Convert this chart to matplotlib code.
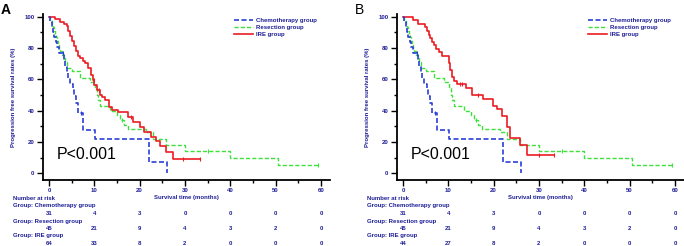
import matplotlib
matplotlib.use("Agg")
import matplotlib.pyplot as plt
from matplotlib.lines import Line2D
from matplotlib.transforms import blended_transform_factory
import numpy as np

plt.rcParams["font.family"] = ["Liberation Sans", "DejaVu Sans"]

# ----------------------------------------------------------
# Data
# ----------------------------------------------------------
chemo_t = [0, 0.3, 0.6, 0.9, 1.2, 1.5, 1.8, 2.1, 3.2, 3.5, 3.9, 4.3, 4.7, 5.2, 5.6, 6.0, 6.4, 7.5, 10.2, 22.0, 26.0]
chemo_s = [100, 96.8, 93.5, 90.3, 87.1, 83.9, 80.6, 76.5, 72, 68, 64.5, 61, 57, 53, 49, 45, 38.5, 27.5, 22, 7.4, 0]
chemo_end = 26.0
chemo_cens = [3.0, 7.0]

res_t = [0, 0.3, 0.6, 0.9, 1.1, 1.3, 1.5, 1.7, 1.9, 2.2, 2.5, 2.9, 3.3, 3.6, 3.9, 5.0, 6.8, 9.0,
         10.1, 10.5, 10.8, 11.2, 13.4, 14.9, 15.6, 16.5, 17.5, 21.3, 23.0, 25.9, 30.0, 40.0, 50.5]
res_s = [100, 97.8, 95.6, 93.3, 91.1, 88.9, 86.7, 84.4, 82.2, 80, 77.8, 75.6, 73.3, 71.1, 67.5, 65, 61, 58,
         55, 50, 46.5, 43, 40, 37, 34, 31, 28, 26, 21.6, 18, 14.4, 10, 5.2]
res_end = 59.3
res_cens = [16.0, 35.0, 59.3]

ire_a_t = [0, 1.3, 2.4, 3.2, 3.9, 4.3, 4.7, 5.1, 5.5, 5.9, 6.3, 6.8, 7.4, 8.0, 8.7, 9.2, 9.6, 10.0, 10.6,
           11.2, 11.6, 12.4, 13.2, 14.0, 15.2, 17.4, 18.6, 20.0, 20.9, 22.6, 23.5, 24.4, 25.9, 27.4]
ire_a_s = [100, 98.4, 96.9, 95.3, 93.8, 90.6, 87.5, 84.4, 81.3, 78.1, 75, 73.4, 71.9, 70.3, 67.2, 62.5, 59.4,
           56.3, 53.1, 50, 48.4, 46.9, 42.2, 40.6, 39.1, 35.9, 32.8, 29.7, 26.6, 23.4, 20.3, 17.2, 13.3, 9.0]
ire_a_end = 33.3
ire_a_cens = [9.9, 11.0, 18.0, 29.5, 33.3]

ire_b_t = [0, 2.3, 3.4, 4.9, 5.3, 5.7, 6.0, 6.3, 6.8, 7.3, 7.9, 8.6, 10.1, 10.4, 10.8, 11.2, 11.9, 13.8,
           15.2, 17.7, 19.9, 20.7, 21.8, 22.9, 23.6, 25.8, 27.3]
ire_b_s = [100, 97.7, 95.5, 93.2, 90.9, 88.6, 86.4, 84.1, 81.8, 79.5, 77.3, 75.0, 70.5, 65.9, 61.4, 59.1,
           56.8, 54.5, 50, 47.7, 43.2, 40.9, 36.4, 29.5, 22.7, 18.2, 11.4]
ire_b_end = 33.3
ire_b_cens = [12.5, 13.0, 16.5, 30.0, 33.3]

risk_times = [0, 10, 20, 30, 40, 50, 60]
risk_chemo = [31, 4, 3, 0, 0, 0, 0]
risk_res = [45, 21, 9, 4, 3, 2, 0]
risk_ire_a = [64, 33, 8, 2, 0, 0, 0]
risk_ire_b = [44, 27, 8, 2, 0, 0, 0]

group_names = ["Chemotherapy group", "Resection group", "IRE group"]

# ----------------------------------------------------------
# Styles
# ----------------------------------------------------------
NAVY = "#1e1e96"
BLUE = "#2a3fd6"
GREEN = "#3de03d"
RED = "#ec1c24"
W, H = 684, 246


def step_curve(ax, t, s, end, cens, color, ls, lw):
    tt = list(t) + [end]
    ss = list(s) + [s[-1]]
    ax.step(tt, ss, where="post", color=color, ls=ls, lw=lw, clip_on=False)
    idx = np.searchsorted(t, cens, side="right") - 1
    cy = np.array(s)[idx]
    ax.plot(cens, cy, ls="none", marker="|", ms=3.5, mew=0.8, color=color, clip_on=False)


def panel(x0_px, label, bold, ire, risk_ire):
    px_per_mo = 272 / 60.0
    left_px = x0_px - 1.4 * px_per_mo
    ax = fig.add_axes([left_px / W, 1 - 180 / H, 63.3 * px_per_mo / W, 166 / H])
    ax.set_xlim(-1.4, 61.9)
    ax.set_ylim(-4.35, 101.7)

    step_curve(ax, res_t, res_s, res_end, res_cens, GREEN, (0, (3, 1.5)), 1.0)
    step_curve(ax, ire[0], ire[1], ire[2], ire[3], RED, "-", 1.2)
    step_curve(ax, chemo_t, chemo_s, chemo_end, chemo_cens, BLUE, (0, (3, 1.5)), 1.2)

    for sp in ["top", "right"]:
        ax.spines[sp].set_visible(False)
    for sp in ["left", "bottom"]:
        ax.spines[sp].set_linewidth(1.3)
    ax.set_xticks(risk_times)
    ax.set_xticks(np.arange(5, 61, 10), minor=True)
    ax.set_yticks([0, 20, 40, 60, 80, 100])
    ax.set_yticks([10, 30, 50, 70, 90], minor=True)
    ax.tick_params(which="major", length=4, width=1.0, labelsize=4.3, labelcolor=NAVY, pad=2)
    ax.tick_params(which="minor", length=2.5, width=1.0)
    for lab in ax.get_xticklabels() + ax.get_yticklabels():
        lab.set_fontweight("bold")

    ax.set_ylabel("Progression free survival rates (%)", fontsize=4.3, color=NAVY,
                  fontweight="bold", labelpad=6)
    ax.set_xlabel("Survival time (months)", fontsize=4.3, color=NAVY, fontweight="bold", labelpad=1)

    ax.text(1.8, 12, "P<0.001", fontsize=11.5, color="black", va="center", ha="left")

    handles = [Line2D([], [], color=BLUE, ls=(0, (3, 1.5)), lw=1.2),
               Line2D([], [], color=GREEN, ls=(0, (3, 1.5)), lw=1.0),
               Line2D([], [], color=RED, ls="-", lw=1.2)]
    leg = ax.legend(handles, group_names, loc="upper left",
                    bbox_to_anchor=((x0_px + 181 - left_px) / (63.3 * px_per_mo), 1.0),
                    frameon=False, fontsize=4.3, handlelength=3.2, handletextpad=0.5,
                    labelspacing=0.35, borderaxespad=0.2)
    for txt in leg.get_texts():
        txt.set_color(NAVY)
        txt.set_fontweight("bold")

    # panel letter
    fig.text((x0_px - 48) / W, 1 - 10 / H, label, fontsize=10,
             fontweight="bold" if bold else "normal", va="center", ha="left")

    # number at risk table
    tr = blended_transform_factory(ax.transData, fig.transFigure)
    tx = (x0_px - 36) / W
    fs = 4.3
    fig.text(tx, 1 - 199 / H, "Number at risk", fontsize=fs, color=NAVY, fontweight="bold", va="center")
    rows = [risk_chemo, risk_res, risk_ire]
    for i, (name, vals) in enumerate(zip(group_names, rows)):
        yh = 206 + i * 15
        fig.text(tx, 1 - yh / H, "Group: " + name, fontsize=fs, color=NAVY, fontweight="bold", va="center")
        for t, v in zip(risk_times, vals):
            ax.text(t, 1 - (yh + 7.5) / H, str(v), transform=tr, fontsize=fs, color=NAVY,
                    fontweight="bold", ha="center", va="center")
    return ax


fig = plt.figure(figsize=(W / 100, H / 100), dpi=100)
panel(49, "A", True, (ire_a_t, ire_a_s, ire_a_end, ire_a_cens), risk_ire_a)
panel(403, "B", False, (ire_b_t, ire_b_s, ire_b_end, ire_b_cens), risk_ire_b)

fig.savefig("out.png", dpi=100)
